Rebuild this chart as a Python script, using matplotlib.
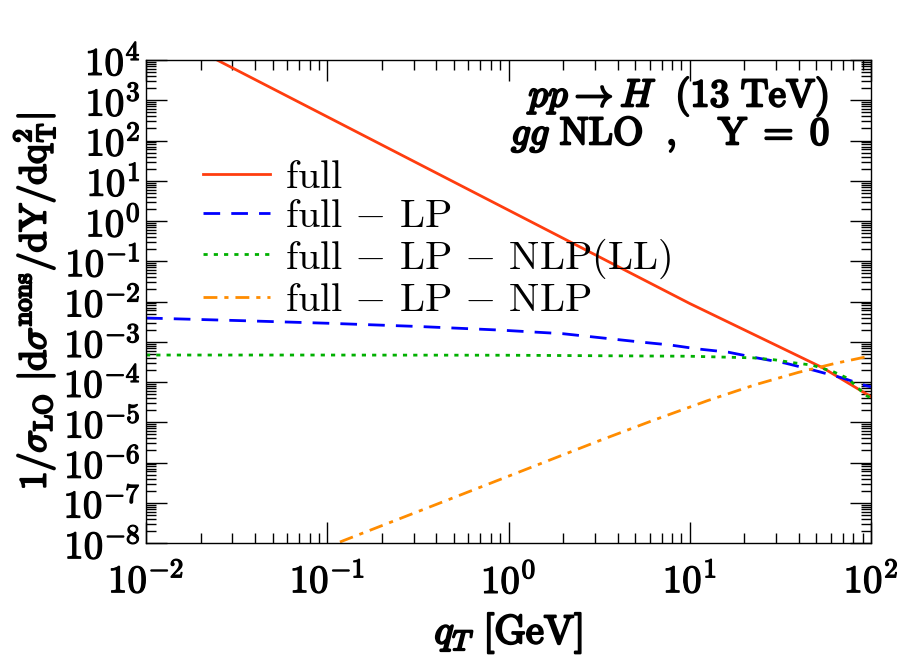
import numpy as np
import matplotlib
matplotlib.use("Agg")
import matplotlib.pyplot as plt
import matplotlib.patheffects as pe
from matplotlib.ticker import LogLocator, FuncFormatter, NullFormatter

plt.rcParams['mathtext.fontset'] = 'cm'
plt.rcParams['font.family'] = 'serif'
plt.rcParams['font.serif'] = ['DejaVu Serif']

# data (qT in GeV, curve values)
qt_full = [10**-1.608, 10**-1.0, 1.0, 10.0, 10**1.735, 100.0]
y_full = [10**4.0, 10**2.59, 10**0.27, 10**-2.05, 10**-3.65, 10**-4.365]

qt_lp = [0.01, 10**-1.465, 10**-1.0, 10**-0.5, 10**-0.047, 10**0.3, 10**0.569, 10**0.735,
         10**0.891, 10**1.047, 10**1.213, 10**1.369, 10**1.526, 10**1.686, 10**1.842,
         10**1.971, 100.0]
y_lp = [10**-2.41, 10**-2.477, 10**-2.54, 10**-2.62, 10**-2.71, 10**-2.80, 10**-2.93, 10**-3.01,
        10**-3.08, 10**-3.18, 10**-3.26, 10**-3.40, 10**-3.53, 10**-3.71, 10**-3.90,
        10**-4.09, 10**-4.12]

qt_nlpll = [0.01, 0.1, 1.0, 10.0, 10**1.349, 10**1.470, 10**1.570, 10**1.674, 10**1.790,
            10**1.868, 10**1.923, 10**1.967, 100.0]
y_nlpll = [10**-3.33, 10**-3.33, 10**-3.335, 10**-3.36, 10**-3.40, 10**-3.45, 10**-3.52,
           10**-3.58, 10**-3.74, 10**-3.90, 10**-4.12, 10**-4.32, 10**-4.40]

qt_nlp = [10**-0.93, 10**-0.5, 1.0, 10**0.5, 10**0.8, 10**1.1, 10**1.36, 10**1.6,
          10**1.8, 100.0]
y_nlp = [10**-7.975, 10**-7.22, 10**-6.34, 10**-5.46, 10**-4.95, 10**-4.46, 10**-4.07,
         10**-3.76, 10**-3.54, 10**-3.35]

fig = plt.figure(figsize=(9, 6.65), dpi=100)
ax = fig.add_axes([146/900, 1 - 543/665, 725/900, 483/665])

ax.plot(qt_full, y_full, color='#ff3d0f', lw=2.0, label=r'$\mathrm{full}$')
ax.plot(qt_lp, y_lp, color='#0000ff', lw=2.0, dashes=(6, 4),
        label=r'$\mathrm{full}\,-\,\mathrm{LP}$')
ax.plot(qt_nlpll, y_nlpll, color='#00b000', lw=2.0, dashes=(1.5, 2.2),
        label=r'$\mathrm{full}\,-\,\mathrm{LP}\,-\,\mathrm{NLP(LL)}$')
ax.plot(qt_nlp, y_nlp, color='#ff8c00', lw=2.0, dashes=(5, 2.5, 1.5, 2.5),
        label=r'$\mathrm{full}\,-\,\mathrm{LP}\,-\,\mathrm{NLP}$')

ax.set_xscale('log')
ax.set_yscale('log')
ax.set_xlim(1e-2, 1e2)
ax.set_ylim(1e-8, 1e4)

ax.xaxis.set_major_locator(LogLocator(base=10, numticks=10))
ax.yaxis.set_major_locator(LogLocator(base=10, numticks=20))
ax.xaxis.set_minor_locator(LogLocator(base=10, subs=np.arange(2, 10), numticks=20))
ax.yaxis.set_minor_locator(LogLocator(base=10, subs=np.arange(2, 10), numticks=40))
fmt = FuncFormatter(lambda v, p: r'$\mathbf{10}^{\mathbf{%d}}$' % int(round(np.log10(v))))
ax.xaxis.set_major_formatter(fmt)
ax.yaxis.set_major_formatter(fmt)
ax.xaxis.set_minor_formatter(NullFormatter())
ax.yaxis.set_minor_formatter(NullFormatter())

ax.tick_params(which='both', direction='in', top=True, right=True, width=1.0)
ax.tick_params(which='major', length=15, labelsize=28)
ax.tick_params(which='minor', length=7.5)
ax.tick_params(axis='x', which='major', pad=14)
ax.tick_params(axis='y', which='major', pad=4)
for s in ax.spines.values():
    s.set_linewidth(1.0)

bold = [pe.withStroke(linewidth=1.6, foreground='black')]
ax.set_xlabel(r'$q_T\ \mathrm{[GeV]}$', fontsize=29, labelpad=8, path_effects=bold)
ax.set_ylabel(r'$1/\sigma_{\mathrm{LO}}\ |\mathrm{d}\sigma^{\mathrm{nons}}/\mathrm{dY}/\mathrm{dq}_{\mathrm{T}}^2|$',
              fontsize=27, labelpad=4, path_effects=bold)

ax.text(0.943, 0.925, r'$pp \rightarrow H\ \ \mathrm{(13\ TeV)}$', transform=ax.transAxes,
        ha='right', va='center', fontsize=28, path_effects=bold)
ax.text(0.943, 0.847, r'$gg\ \mathrm{NLO}\ \ ,\ \ \ \mathrm{Y\;=\;0}$', transform=ax.transAxes,
        ha='right', va='center', fontsize=28, path_effects=bold)

ax.legend(loc='upper left', bbox_to_anchor=(0.079, 0.795), frameon=False, fontsize=29,
          handlelength=1.65, handletextpad=0.37, labelspacing=0.04, borderaxespad=0,
          borderpad=0)

fig.canvas.draw()
for lbl in ax.get_xticklabels() + ax.get_yticklabels():
    lbl.set_path_effects([pe.withStroke(linewidth=0.9, foreground='black')])

fig.savefig('out.png', dpi=100)
